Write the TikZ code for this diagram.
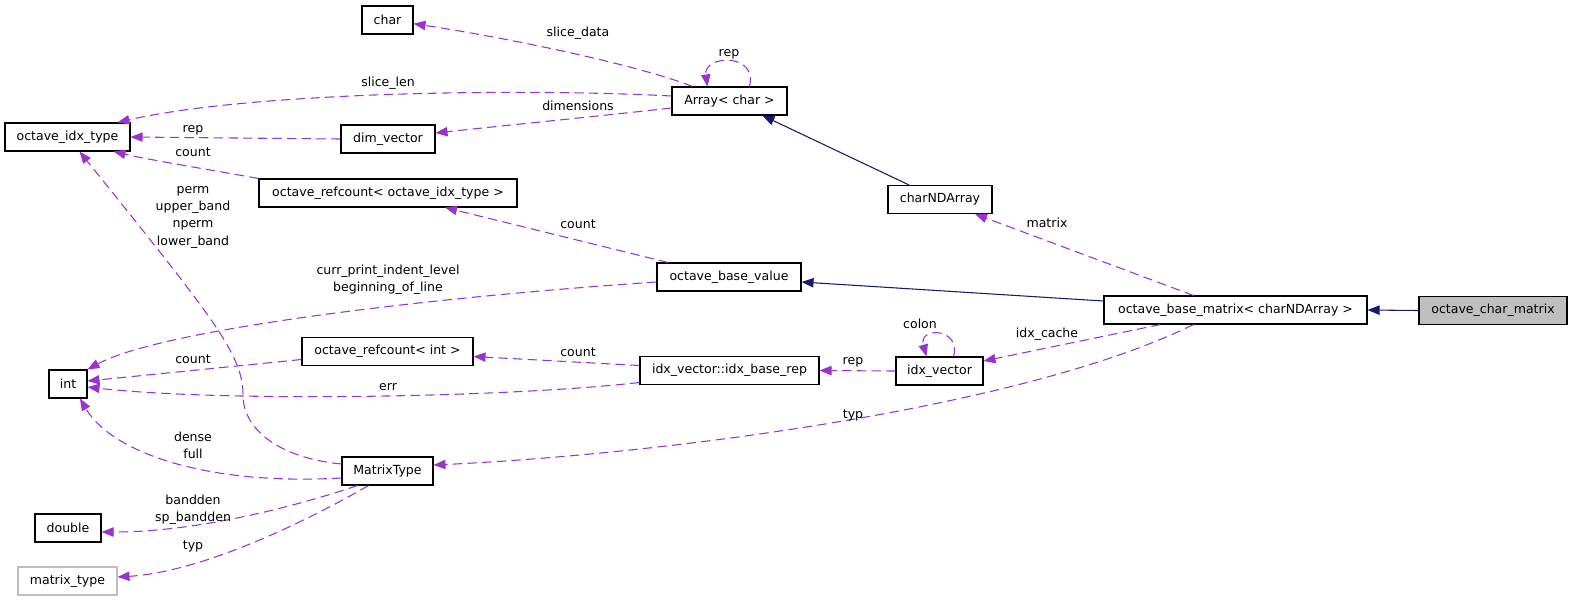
\documentclass[tikz,border=0pt]{standalone}
\usepackage{fontspec}
\usetikzlibrary{arrows.meta,calc}
\newfontfamily\dgfam{DejaVu Sans}
\newcommand\dgfont{\dgfam\fontsize{9.4}{13}\selectfont}
\definecolor{depcol}{HTML}{9A32CD}
\definecolor{inhcol}{HTML}{191970}
\definecolor{grayfill}{HTML}{BFBFBF}
\tikzset{
  box/.style={draw=black, line width=0.8pt, fill=white, minimum height=21pt, inner sep=0pt, font=\dgfont},
  dep/.style={draw=depcol, dash pattern=on 7pt off 4pt, line width=0.8pt, -{Triangle[length=9pt,width=7pt]}},
  inh/.style={draw=inhcol, line width=0.8pt, -{Triangle[length=9pt,width=7pt]}},
  lbl/.style={font=\dgfont, align=center, inner sep=0pt},
}
\begin{document}
\begin{tikzpicture}[x=0.75pt,y=-0.75pt]
\useasboundingbox (0,0) rectangle (1573,601);
% nodes
\node[box, minimum width=38.25pt] (char) at (387.5,20) {char};
\node[box, minimum width=93.75pt] (oit) at (67.5,137) {octave\_idx\_type};
\node[box, minimum width=70.5pt] (dimv) at (388,139) {dim\_vector};
\node[box, minimum width=193.5pt] (rcidx) at (388,193) {octave\_refcount< octave\_idx\_type >};
\node[box, minimum width=86.25pt] (arr) at (729.5,101) {Array< char >};
\node[box, minimum width=78pt] (cnd) at (940,199.5) {charNDArray};
\node[box, minimum width=108pt] (obv) at (729,277) {octave\_base\_value};
\node[box, minimum width=197.25pt] (obm) at (1235.5,310) {octave\_base\_matrix< charNDArray >};
\node[box, minimum width=111pt, fill=grayfill] (ocm) at (1493,310.5) {octave\_char\_matrix};
\node[box, minimum width=128.25pt] (rcint) at (387.5,351.5) {octave\_refcount< int >};
\node[box, minimum width=134.25pt] (ibr) at (729.5,370.5) {idx\_vector::idx\_base\_rep};
\node[box, minimum width=65.25pt] (iv) at (939.5,371) {idx\_vector};
\node[box, minimum width=28.5pt] (int) at (68,384) {int};
\node[box, minimum width=68.25pt] (mt) at (387.5,471) {MatrixType};
\node[box, minimum width=49.5pt] (dbl) at (68,528) {double};
\node[box, minimum width=74.25pt, draw=grayfill] (mtt) at (67.5,581) {matrix\_type};
% edges
\draw[dep] ($(arr.north west)+(21,0)$) .. controls (640,66) and (520,40) .. (char.-8);
\draw[dep] ($(arr.north)+(20,0)$) .. controls (758,52) and (703,55) .. ($(arr.north)+(-22,0)$);
\draw[dep] ($(arr.west)+(0,-5)$) .. controls (520,88) and (250,92) .. ($(oit.north east)+(-13,0)$);
\draw[dep] ($(arr.west)+(0,7)$) .. controls (600,116) and (500,126) .. ($(dimv.east)+(0,-6)$);
\draw[dep] (dimv.west) -- (oit.east);
\draw[dep] (rcidx.north west) .. controls (200,168) and (150,160) .. ($(oit.south east)+(-17,0)$);
\draw[dep] ($(mt.west)+(0,-7)$) .. controls (280,458) and (243,430) .. (243,395) .. controls (243,355) and (215,320) .. ($(oit.south)+(12,0)$);
\draw[inh] ($(cnd.north)+(-31,0)$) -- ($(arr.south)+(33,0)$);
\draw[dep] ($(obm.north)+(-42,0)$) -- ($(cnd.south)+(35,0)$);
\draw[dep] ($(obv.north)+(-61,0)$) -- ($(rcidx.south)+(57,0)$);
\draw[dep] ($(obv.west)+(0,5)$) .. controls (420,298) and (160,330) .. (int.north east);
\draw[inh] ($(obm.west)+(0,-9)$) -- ($(obv.east)+(0,5)$);
\draw[inh] (ocm.west) -- (obm.east);
\draw[dep] ($(rcint.west)+(0,8)$) -- ($(int.east)+(0,-3)$);
\draw[dep] ($(ibr.west)+(0,-5)$) -- ($(rcint.east)+(0,5)$);
\draw[dep] ($(ibr.west)+(0,12)$) .. controls (500,398) and (220,402) .. ($(int.east)+(0,3)$);
\draw[dep] (iv.west) -- (ibr.east);
\draw[dep] ($(iv.north)+(14,0)$) .. controls (962,328) and (918,326) .. ($(iv.north)+(-13,0)$);
\draw[dep] ($(obm.south)+(-75,0)$) -- ($(iv.east)+(0,-10)$);
\draw[dep] ($(obm.south)+(-42,0)$) .. controls (1020,410) and (650,455) .. ($(mt.east)+(0,-6)$);
\draw[dep] ($(mt.west)+(0,7)$) .. controls (200,486) and (110,450) .. ($(int.south)+(12,0)$);
\draw[dep] ($(mt.south)+(-30,0)$) .. controls (300,505) and (200,532) .. ($(dbl.east)+(0,4)$);
\draw[dep] ($(mt.south)+(-19,0)$) .. controls (300,525) and (200,572) .. ($(mtt.east)+(0,-4)$);
% labels
\node[lbl] (l1) at (578,33.5) {slice\_data};
\node[lbl] (l2) at (729,54.5) {rep};
\node[lbl] (l3) at (388,83.5) {slice\_len};
\node[lbl] (l4) at (578,105.5) {dimensions};
\node[lbl] (l5) at (193,130.5) {rep};
\node[lbl] (l6) at (193,152.5) {count};
\node[lbl] (l7) at (193,217) {perm\\upper\_band\\nperm\\lower\_band};
\node[lbl] (l8) at (1047,222.5) {matrix};
\node[lbl] (l9) at (578,224.5) {count};
\node[lbl] (l10) at (388,279.5) {curr\_print\_indent\_level\\beginning\_of\_line};
\node[lbl] (l11) at (193,359.5) {count};
\node[lbl] (l12) at (578,352.5) {count};
\node[lbl] (l13) at (388,387.5) {err};
\node[lbl] (l14) at (853,362.5) {rep};
\node[lbl] (l15) at (920,323.5) {colon};
\node[lbl] (l16) at (1047,334.5) {idx\_cache};
\node[lbl] (l17) at (853,415.5) {typ};
\node[lbl] (l18) at (193,445) {dense\\full};
\node[lbl] (l19) at (193,510) {bandden\\sp\_bandden};
\node[lbl] (l20) at (193,546.5) {typ};
\end{tikzpicture}
\end{document}
